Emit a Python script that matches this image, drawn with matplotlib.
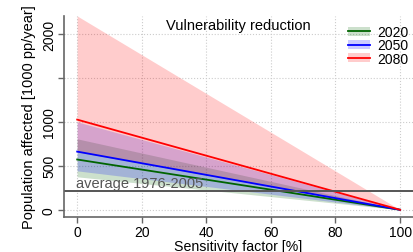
import matplotlib

matplotlib.use("Agg")
import matplotlib.pyplot as plt
from matplotlib.lines import Line2D
from matplotlib.patches import Patch

plt.rcParams["font.family"] = ["Liberation Sans", "DejaVu Sans"]
plt.rcParams["font.size"] = 10

# sensitivity factor [%] at the two ends of each straight band
SENSITIVITY = [0, 100]
YEARS = ["2020", "2050", "2080"]
MEDIAN = {
    "2020": [572, 0],
    "2050": [662, 0],
    "2080": [1026, 0],
}
LOWER = {
    "2020": [375, 0],
    "2050": [443, 0],
    "2080": [659, 0],
}
UPPER = {
    "2020": [807, 0],
    "2050": [1000, 0],
    "2080": [2205, 0],
}
AVERAGE_1976_2005 = 216

YEAR_COLORS = {"2020": "#006400", "2050": "#0000FF", "2080": "#FF0000"}
AXIS_GRAY = "#666666"
FS = 10

fig = plt.figure(figsize=(4.13, 2.53), dpi=100)
ax = fig.add_axes([0.154, 0.138, 0.846, 0.795])

for year in YEARS:
    ax.fill_between(SENSITIVITY, LOWER[year], UPPER[year],
                    color=YEAR_COLORS[year], alpha=0.2, linewidth=0)
for year in YEARS:
    ax.plot(SENSITIVITY, MEDIAN[year], color=YEAR_COLORS[year], linewidth=1.3)

ax.axhline(AVERAGE_1976_2005, color="#555555", linewidth=1.4)
ax.text(-0.5, AVERAGE_1976_2005 + 5, "average 1976-2005", color="#555555",
        ha="left", va="bottom", fontsize=10.5)
ax.text(50, 2105, "Vulnerability reduction", ha="center", va="center", fontsize=10.5)

ax.set_xlim(-4.2, 104)
ax.set_ylim(-83, 2205)
ax.set_xticks([0, 20, 40, 60, 80, 100])
ax.set_yticks([0, 500, 1000, 1500, 2000])
ax.set_yticklabels(["0", "500", "1000", "", "2000"], rotation=90, va="center")
ax.grid(True, linestyle=":", color="#cccccc", linewidth=0.8)
ax.set_axisbelow(True)

for side in ("top", "right"):
    ax.spines[side].set_visible(False)
for side in ("left", "bottom"):
    ax.spines[side].set_color(AXIS_GRAY)
    ax.spines[side].set_linewidth(1.2)
ax.tick_params(colors=AXIS_GRAY, labelcolor="black", length=4, width=1.0,
               labelsize=FS, pad=1.5)

ax.set_xlabel("Sensitivity factor [%]", fontsize=10.2, va="center")
ax.xaxis.set_label_coords(0.5, -0.143)
ax.set_ylabel("Population affected [1000 pp/year]", fontsize=10.5, labelpad=4)

handles = [
    (Patch(facecolor=YEAR_COLORS[y], alpha=0.2, edgecolor="none"),
     Line2D([], [], color=YEAR_COLORS[y], linewidth=1.3))
    for y in YEARS
]
ax.legend(handles, YEARS, loc="upper left", bbox_to_anchor=(0.814, 0.955),
          frameon=False, fontsize=10, handlelength=1.6, handleheight=0.6,
          labelspacing=-0.05, handletextpad=0.5, borderaxespad=0, borderpad=0)

fig.savefig("out.png", dpi=100)
